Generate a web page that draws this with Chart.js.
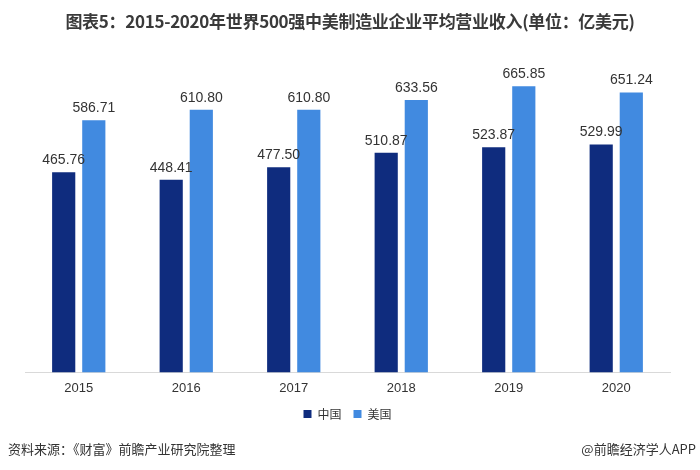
<!DOCTYPE html>
<html>
<head>
<meta charset="utf-8">
<script src="https://cdn.jsdelivr.net/npm/chart.js@4.4.1/dist/chart.umd.min.js"></script>
<style>
  body { margin: 0; background: #fff; }
  #wrap { position: relative; width: 700px; height: 470px; overflow: hidden; }
  #title { position: absolute; top: 8px; left: 0; width: 700px; text-align: center;
           font: bold 17px "Noto Sans CJK SC"; color: #3a3a3a; letter-spacing: -0.3px; }
  .foot { position: absolute; top: 439px; font: 13px "Noto Sans CJK SC"; color: #333; }
  canvas { position: absolute; top: 0; left: 0; }
</style>
</head>
<body>
<div id="wrap">
  <canvas id="chart" width="700" height="470"></canvas>
  <div id="title">图表5：2015-2020年世界500强中美制造业企业平均营业收入(单位：亿美元)</div>
  <div class="foot" style="left:8px">资料来源：《财富》前瞻产业研究院整理</div>
  <div class="foot" style="right:4px">@前瞻经济学人APP</div>
</div>
<script>
// 年份
const years = ['2015', '2016', '2017', '2018', '2019', '2020'];
// 中国企业平均营业收入（亿美元）
const chinaValues = [465.76, 448.41, 477.50, 510.87, 523.87, 529.99];
// 美国企业平均营业收入（亿美元）
const usValues = [586.71, 610.80, 610.80, 633.56, 665.85, 651.24];

// 柱子上方的数值标签
const valueLabels = {
    id: 'valueLabels',
    afterDatasetsDraw(chart) {
        let ctx = chart.ctx;
        ctx.save();
        ctx.font = '14px "Liberation Sans", Arial';
        ctx.fillStyle = '#333';
        ctx.textAlign = 'center';
        ctx.textBaseline = 'bottom';
        chart.data.datasets.forEach((ds, i) => {
            chart.getDatasetMeta(i).data.forEach((bar, j) => {
                ctx.fillText(ds.data[j].toFixed(2), bar.x, bar.y - 5);
            });
        });
        ctx.restore();
    }
};

let ctx = document.getElementById('chart').getContext('2d');
new Chart(ctx, {
    type: 'bar',
    data: {
        labels: years,
        datasets: [{
            label: '中国',
            data: chinaValues,
            backgroundColor: '#0f2c7e',
            categoryPercentage: 0.56,
            barPercentage: 0.77
        }, {
            label: '美国',
            data: usValues,
            backgroundColor: '#418ae0',
            categoryPercentage: 0.56,
            barPercentage: 0.77
        }]
    },
    options: {
        responsive: false,
        animation: false,
        layout: { padding: { top: 50, left: 25, right: 30, bottom: 40 } },
        plugins: {
            legend: {
                position: 'bottom',
                labels: {
                    boxWidth: 8,
                    boxHeight: 8,
                    padding: 12,
                    color: '#333',
                    font: { family: '"Noto Sans CJK SC"', size: 12 }
                }
            },
            tooltip: { enabled: false }
        },
        scales: {
            x: {
                grid: { display: false },
                border: { color: '#d9d9d9' },
                ticks: {
                    color: '#333',
                    padding: 0,
                    font: { family: '"Liberation Sans", Arial', size: 13 }
                }
            },
            y: {
                display: false,
                min: 0,
                max: 750
            }
        }
    },
    plugins: [valueLabels]
});
</script>
</body>
</html>
